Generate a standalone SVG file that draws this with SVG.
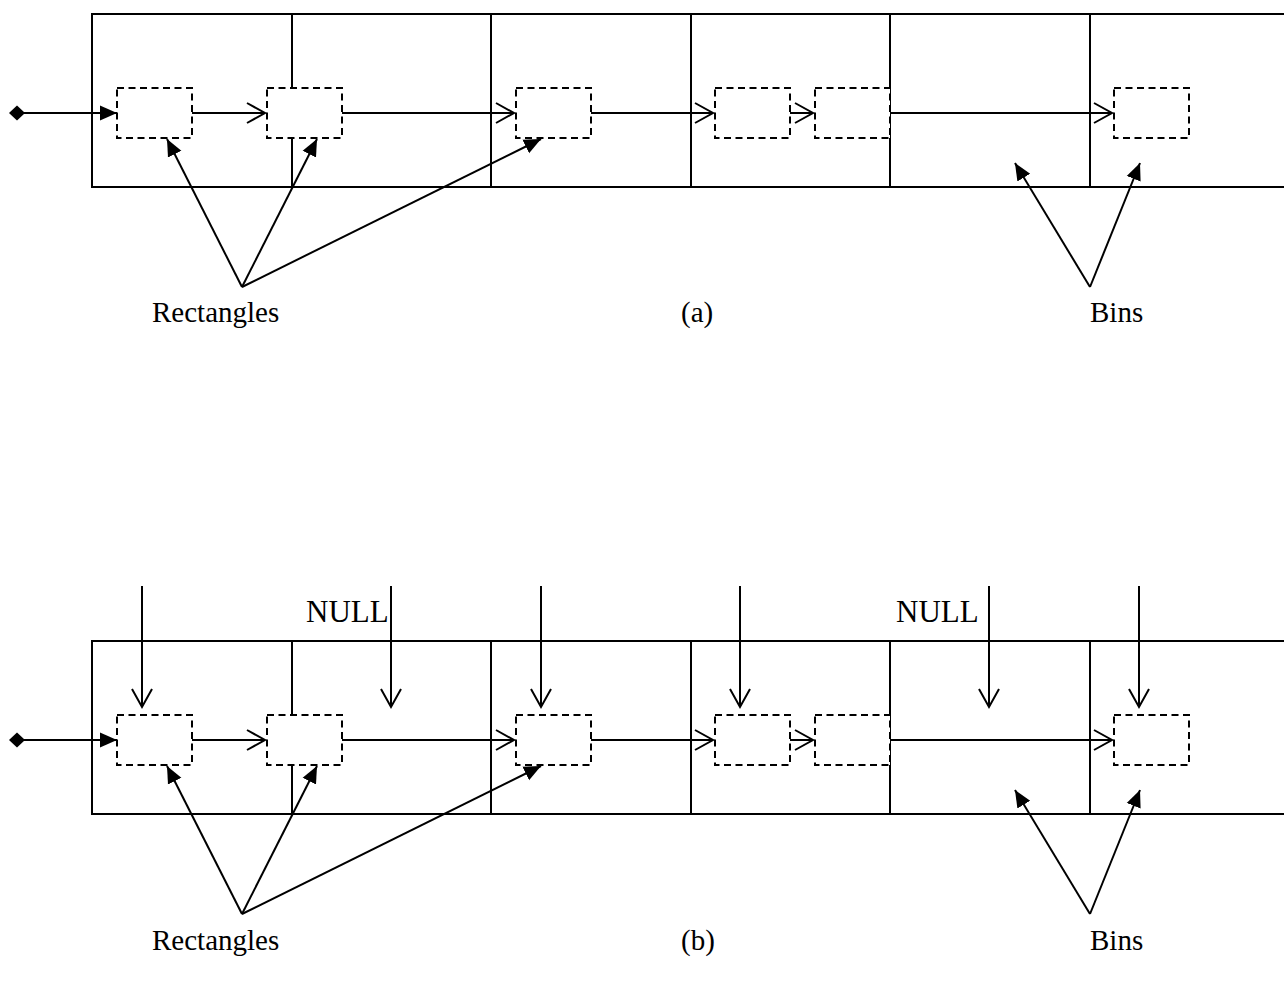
<svg xmlns="http://www.w3.org/2000/svg" width="1284" height="987" viewBox="0 0 1284 987">
<style>
.ln{stroke:#000;stroke-width:2;fill:none}
.db{stroke:#000;stroke-width:2;stroke-dasharray:7,4.5;fill:#fff}
.t{font-family:"Liberation Serif","Times New Roman",serif;font-size:29px;fill:#000}
.n{font-size:31px}
</style>
<defs>
<marker id="open" markerUnits="userSpaceOnUse" markerWidth="24" markerHeight="24" refX="20" refY="11" orient="auto" viewBox="0 0 24 24">
<path d="M2,1 L20,11 L2,21" fill="none" stroke="#000" stroke-width="2"/>
</marker>
<marker id="fill" markerUnits="userSpaceOnUse" markerWidth="20" markerHeight="18" refX="17" refY="9" orient="auto" viewBox="0 0 20 18">
<path d="M0,1.5 L17,9 L0,16.5 Z" fill="#000"/>
</marker>
<marker id="dia" markerUnits="userSpaceOnUse" markerWidth="20" markerHeight="20" refX="10" refY="10" orient="auto" viewBox="0 0 20 20">
<path d="M2,10 L10,2.5 L18,10 L10,17.5 Z" fill="#000"/>
</marker>
</defs>

<g id="panel-a">
<g id="bins-a">
<path class="ln" d="M1284,14 H92 V187 H1284"/>
<path class="ln" d="M292,14 V187 M491,14 V187 M691,14 V187 M890,14 V187 M1090,14 V187"/>
</g>
<g id="rects-a">
<rect id="a-r1" class="db" x="117" y="88" width="75" height="50"/>
<rect id="a-r2" class="db" x="267" y="88" width="75" height="50"/>
<rect id="a-r3" class="db" x="516" y="88" width="75" height="50"/>
<rect id="a-r4" class="db" x="715" y="88" width="75" height="50"/>
<rect id="a-r5" class="db" x="815" y="88" width="75" height="50"/>
<rect id="a-r6" class="db" x="1114" y="88" width="75" height="50"/>
</g>
<g id="connectors-a">
<line class="ln" x1="17" y1="113" x2="117" y2="113" marker-start="url(#dia)" marker-end="url(#fill)"/>
<line class="ln" x1="192" y1="113" x2="265" y2="113" marker-end="url(#open)"/>
<line class="ln" x1="342" y1="113" x2="514" y2="113" marker-end="url(#open)"/>
<line class="ln" x1="591" y1="113" x2="713" y2="113" marker-end="url(#open)"/>
<line class="ln" x1="790" y1="113" x2="813" y2="113" marker-end="url(#open)"/>
<line class="ln" x1="890" y1="113" x2="1112" y2="113" marker-end="url(#open)"/>
<line class="ln" x1="242" y1="287" x2="167" y2="139" marker-end="url(#fill)"/>
<line class="ln" x1="242" y1="287" x2="317" y2="139" marker-end="url(#fill)"/>
<line class="ln" x1="242" y1="287" x2="541" y2="139" marker-end="url(#fill)"/>
<line class="ln" x1="1090" y1="287" x2="1015" y2="163" marker-end="url(#fill)"/>
<line class="ln" x1="1090" y1="287" x2="1140" y2="163" marker-end="url(#fill)"/>
</g>
<text class="t" x="152" y="322">Rectangles</text>
<text class="t" x="681" y="322">(a)</text>
<text class="t" x="1090" y="322">Bins</text>
</g>

<g id="panel-b">
<g id="bins-b">
<path class="ln" d="M1284,641 H92 V814 H1284"/>
<path class="ln" d="M292,641 V814 M491,641 V814 M691,641 V814 M890,641 V814 M1090,641 V814"/>
</g>
<g id="rects-b">
<rect id="b-r1" class="db" x="117" y="715" width="75" height="50"/>
<rect id="b-r2" class="db" x="267" y="715" width="75" height="50"/>
<rect id="b-r3" class="db" x="516" y="715" width="75" height="50"/>
<rect id="b-r4" class="db" x="715" y="715" width="75" height="50"/>
<rect id="b-r5" class="db" x="815" y="715" width="75" height="50"/>
<rect id="b-r6" class="db" x="1114" y="715" width="75" height="50"/>
</g>
<g id="connectors-b">
<line class="ln" x1="17" y1="740" x2="117" y2="740" marker-start="url(#dia)" marker-end="url(#fill)"/>
<line class="ln" x1="192" y1="740" x2="265" y2="740" marker-end="url(#open)"/>
<line class="ln" x1="342" y1="740" x2="514" y2="740" marker-end="url(#open)"/>
<line class="ln" x1="591" y1="740" x2="713" y2="740" marker-end="url(#open)"/>
<line class="ln" x1="790" y1="740" x2="813" y2="740" marker-end="url(#open)"/>
<line class="ln" x1="890" y1="740" x2="1112" y2="740" marker-end="url(#open)"/>
<line class="ln" x1="242" y1="914" x2="167" y2="766" marker-end="url(#fill)"/>
<line class="ln" x1="242" y1="914" x2="317" y2="766" marker-end="url(#fill)"/>
<line class="ln" x1="242" y1="914" x2="541" y2="766" marker-end="url(#fill)"/>
<line class="ln" x1="1090" y1="914" x2="1015" y2="790" marker-end="url(#fill)"/>
<line class="ln" x1="1090" y1="914" x2="1140" y2="790" marker-end="url(#fill)"/>
<line class="ln" x1="142" y1="586" x2="142" y2="707" marker-end="url(#open)"/>
<line class="ln" x1="391" y1="586" x2="391" y2="707" marker-end="url(#open)"/>
<line class="ln" x1="541" y1="586" x2="541" y2="707" marker-end="url(#open)"/>
<line class="ln" x1="740" y1="586" x2="740" y2="707" marker-end="url(#open)"/>
<line class="ln" x1="989" y1="586" x2="989" y2="707" marker-end="url(#open)"/>
<line class="ln" x1="1139" y1="586" x2="1139" y2="707" marker-end="url(#open)"/>
</g>
<text class="t n" x="306" y="622">NULL</text>
<text class="t n" x="896" y="622">NULL</text>
<text class="t" x="152" y="950">Rectangles</text>
<text class="t" x="681" y="950">(b)</text>
<text class="t" x="1090" y="950">Bins</text>
</g>
</svg>
